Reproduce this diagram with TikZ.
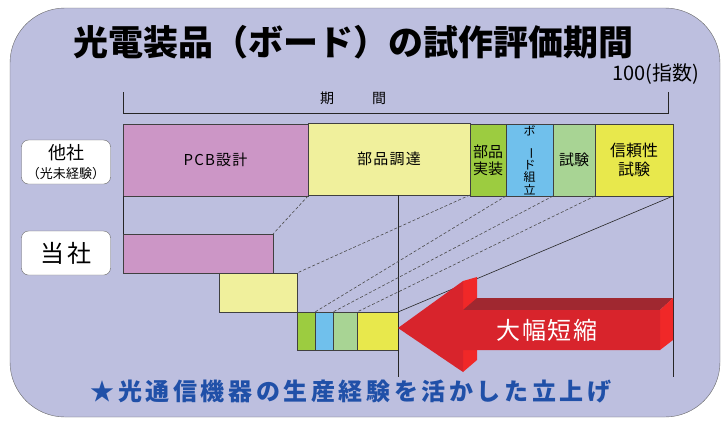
\documentclass[tikz,border=0pt]{standalone}
\usepackage{fontspec}
\setmainfont{Noto Sans CJK JP}

\definecolor{bgblue}{RGB}{189,191,223}
\definecolor{pcbpink}{RGB}{204,150,198}
\definecolor{buyyellow}{RGB}{240,240,156}
\definecolor{mountgreen}{RGB}{156,204,64}
\definecolor{assyblue}{RGB}{112,192,236}
\definecolor{testgreen}{RGB}{168,212,148}
\definecolor{relyellow}{RGB}{232,232,76}
\definecolor{arrowred}{RGB}{216,36,44}
\definecolor{arrowlight}{RGB}{240,40,40}
\definecolor{arrowdark}{RGB}{160,40,48}
\definecolor{notblue}{RGB}{32,80,168}

\begin{document}
\begin{tikzpicture}[
    x=1pt, y=-1pt,
    seg/.style={rectangle, draw=black!75, semithick, inner sep=0pt, outer sep=0pt, align=center, font=\fontsize{14}{17}\selectfont},
    company/.style={rectangle, rounded corners=7pt, draw=black!60, fill=white, minimum width=89pt, minimum height=44pt, align=center},
    guide/.style={black!85, semithick},
    link/.style={black!70, semithick, dash pattern=on 3pt off 2pt}
]
    \useasboundingbox (0,0) rectangle (722,421);

    % Hintergrund
    \draw[fill=bgblue, draw=black!60, rounded corners=55pt] (10,8) rectangle (720,417);

    % Titel
    \node[font=\fontsize{35}{40}\selectfont\bfseries] (title) at (353,42) {光電装品（ボード）の試作評価期間};
    \node[font=\fontsize{20}{22}\selectfont] (index) at (656,74) {100(指数)};

    % Zeitachse
    \draw[guide] (123,92) |- (668,113) -- (668,92);
    \node[font=\fontsize{14}{16}\selectfont] (period) at (353,98) {期\hspace{38pt}間};

    % Firmen
    \node[company, font=\fontsize{13}{19}\selectfont] (other) at (66,162) {{\fontsize{18}{19}\selectfont 他社}\\（光未経験）};
    \node[company] (ours) at (66,253) {\fontsize{24}{26}\selectfont\addfontfeature{LetterSpace=12}当社};

    % Andere Firma
    \node[seg, fill=pcbpink, minimum width=185pt, minimum height=72pt, font=\fontsize{15}{17}\selectfont\addfontfeature{LetterSpace=8}] (pcb) at (215.5,160) {PCB設計};
    \node[seg, fill=buyyellow, minimum width=162pt, minimum height=72pt, font=\fontsize{15}{17}\selectfont\addfontfeature{LetterSpace=8}] (buy) at (389,159) {部品調達};
    \node[seg, fill=mountgreen, minimum width=36pt, minimum height=72pt, font=\fontsize{15}{17}\selectfont] (mount) at (488,160) {部品\\実装};
    \node[seg, fill=assyblue, minimum width=47pt, minimum height=72pt, font=\fontsize{12}{12.3}\selectfont] (assy) at (529.5,160) {ボ\\\rotatebox{-90}{ー}\\ド\\組\\立};
    \node[seg, fill=testgreen, minimum width=42pt, minimum height=72pt, font=\fontsize{15}{17}\selectfont] (test) at (574,160) {試験};
    \node[seg, fill=relyellow, minimum width=78pt, minimum height=72pt, font=\fontsize{16}{19}\selectfont] (rel) at (634,160) {信頼性\\試験};

    % Eigene Firma
    \node[seg, fill=pcbpink, minimum width=150pt, minimum height=39pt] (pcb2) at (198,253.5) {};
    \node[seg, fill=buyyellow, minimum width=78pt, minimum height=39pt] (buy2) at (258,292.5) {};
    \node[seg, fill=mountgreen, minimum width=18pt, minimum height=38pt] (mount2) at (306,331) {};
    \node[seg, fill=assyblue, minimum width=18pt, minimum height=38pt] (assy2) at (324,331) {};
    \node[seg, fill=testgreen, minimum width=24pt, minimum height=38pt] (test2) at (345,331) {};
    \node[seg, fill=relyellow, minimum width=41pt, minimum height=38pt] (rel2) at (377.5,331) {};

    % Hilfslinien
    \coordinate (endL) at (398,377);
    \coordinate (endR) at (673,377);
    \draw[guide] (pcb.south west) -- (pcb2.north west);
    \draw[guide] (endL |- buy.south) -- (endL);
    \draw[guide] (rel.south east) -- (endR);
    \draw[link] (pcb.south east) -- (pcb2.north east);
    \draw[link] (buy.south east) -- (buy2.north east);
    \draw[link] (mount.south east) -- (mount2.north east);
    \draw[link] (assy.south east) -- (assy2.north east);
    \draw[link] (test.south east) -- (test2.north east);
    \draw[guide] (rel.south east) -- (rel2.north east);

    % Pfeil
    \fill[arrowlight] (463,281) -- (477,277) -- (477,360) -- (463,372) -- cycle;
    \fill[arrowdark] (463,310) -- (477,298) -- (673,298) -- (660,310) -- cycle;
    \fill[arrowlight] (660,310) -- (673,298) -- (673,340) -- (660,350) -- cycle;
    \fill[arrowred] (398,328) -- (463,281) -- (463,310) -- (660,310) -- (660,350) -- (463,350) -- (463,372) -- cycle;
    \node[text=white, font=\fontsize{24}{26}\selectfont\addfontfeature{LetterSpace=6}] (short) at (547,330) {大幅短縮};

    % Fazit
    \node[text=notblue, font=\fontsize{24}{26}\selectfont\bfseries\addfontfeature{LetterSpace=15}] (note) at (351,392) {★光通信機器の生産経験を活かした立上げ};
\end{tikzpicture}
\end{document}
